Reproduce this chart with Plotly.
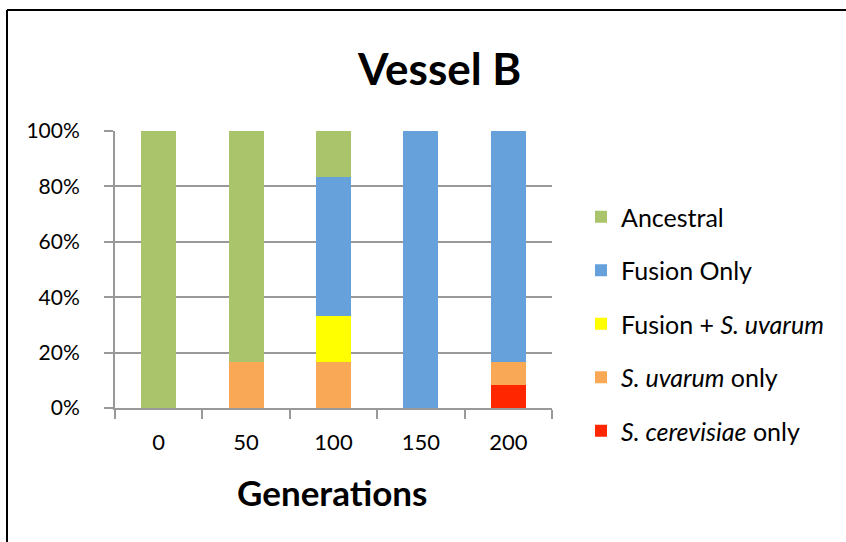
import plotly.graph_objects as go

generations = ["0", "50", "100", "150", "200"]
s_cerevisiae_only = [0, 0, 0, 0, 8.33]
s_uvarum_only = [0, 16.67, 16.67, 0, 8.33]
fusion_plus_uvarum = [0, 0, 16.67, 0, 0]
fusion_only = [0, 0, 50, 100, 83.33]
ancestral = [100, 83.33, 16.67, 0, 0]
y_tick_values = [0, 20, 40, 60, 80, 100]
y_tick_labels = ["0%", "20%", "40%", "60%", "80%", "100%"]

series = [
    ("<i>S. cerevisiae</i> only", s_cerevisiae_only, "#FF2600"),
    ("<i>S. uvarum</i> only", s_uvarum_only, "#F9A856"),
    ("Fusion + <i>S. uvarum</i>", fusion_plus_uvarum, "#FFFF00"),
    ("Fusion Only", fusion_only, "#66A1DC"),
    ("Ancestral", ancestral, "#AAC46C"),
]

FONT = "Lato"
fig = go.Figure()
n = len(series)
for i, (name, vals, col) in enumerate(series):
    fig.add_trace(go.Bar(x=generations, y=vals, name=name, marker_color=col,
                         marker_line_width=0, legendgroup=f"g{i}",
                         legendrank=n - i))

W, H = 846, 542
L, R, T, B = 115, 552, 131, 408

def px(x):
    return (x - L) / (R - L)

def py(y):
    return (B - y) / (B - T)

fig.update_layout(
    width=W, height=H,
    margin=dict(l=L, r=W - R, t=T, b=H - B),
    barmode="stack", bargap=0.6,
    plot_bgcolor="white", paper_bgcolor="white",
    font=dict(family=FONT, size=22, color="black"),
    showlegend=True,
    legend=dict(x=px(581), xanchor="left", y=py(324), yanchor="middle",
                traceorder="grouped", tracegroupgap=18,
                font=dict(family=FONT, size=25, color="black"),
                bgcolor="rgba(0,0,0,0)"),
    xaxis=dict(showline=True, linecolor="#999999", linewidth=2,
               ticks="outside", tickson="boundaries", ticklen=9,
               tickcolor="#999999", tickwidth=2, showgrid=False,
               ticklabelstandoff=14,
               tickfont=dict(family=FONT, size=22, color="black")),
    yaxis=dict(range=[0, 100.01], tickmode="array", tickvals=y_tick_values,
               ticktext=y_tick_labels,
               showline=True, linecolor="#999999", linewidth=2,
               ticks="outside", ticklen=9, tickcolor="#999999", tickwidth=2,
               showgrid=True, gridcolor="#999999", gridwidth=2,
               zeroline=False, ticklabelstandoff=20,
               tickfont=dict(family=FONT, size=21, color="black")),
    annotations=[
        dict(text="<b>Vessel B</b>", x=px(439), y=py(68), xref="paper", yref="paper",
             showarrow=False, xanchor="center", yanchor="middle",
             font=dict(family=FONT, size=44, color="black")),
        dict(text="<b>Generations</b>", x=px(332), y=py(492), xref="paper", yref="paper",
             showarrow=False, xanchor="center", yanchor="middle",
             font=dict(family=FONT, size=35, color="black")),
    ],
    shapes=[
        dict(type="line", xref="paper", yref="paper", x0=px(7), x1=px(900),
             y0=py(10), y1=py(10), line=dict(color="black", width=2)),
        dict(type="line", xref="paper", yref="paper", x0=px(7), x1=px(7),
             y0=py(10), y1=py(600), line=dict(color="black", width=2)),
    ],
)

fig.write_html("out.html", config={"displayModeBar": False},
               post_script="document.body.style.margin='0';")
